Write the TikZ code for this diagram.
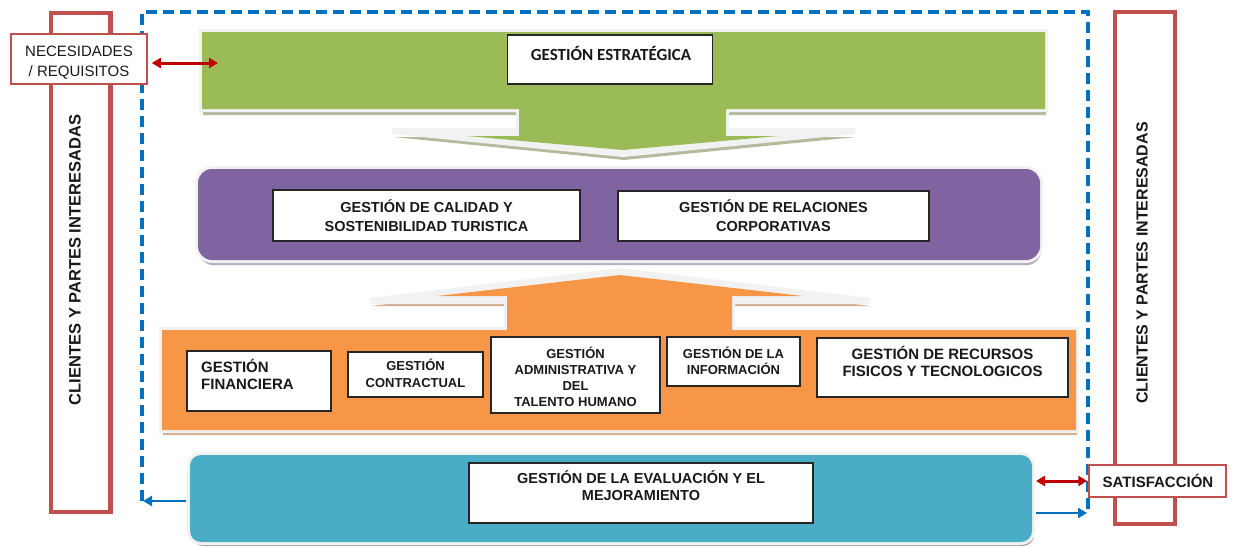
\documentclass[tikz,border=0pt]{standalone}
\usepackage{fontspec}
\setmainfont{Liberation Sans}
\newfontfamily\carl{Carlito}
\usetikzlibrary{arrows.meta}
\definecolor{cgreen}{RGB}{155,187,89}
\definecolor{cpurple}{RGB}{128,100,162}
\definecolor{corange}{RGB}{247,150,70}
\definecolor{cteal}{RGB}{75,172,198}
\definecolor{cred}{RGB}{192,80,77}
\definecolor{carrowred}{RGB}{192,0,0}
\definecolor{cblue}{RGB}{0,112,192}
\definecolor{cborder}{RGB}{242,242,242}
\newcommand{\ml}[2][c]{\begin{tabular}[t]{@{}#1@{}}#2\end{tabular}}
\begin{document}
\begin{tikzpicture}[x=1pt,y=-1pt,
  wbox/.style={draw=black!85, fill=white, line width=1.4pt, inner sep=0pt},
  rbox/.style={draw=cred, fill=white, line width=1.5pt, inner sep=0pt},
  tallbox/.style={draw=cred, line width=4.5pt, inner sep=0pt},
  lbl/.style={anchor=base, inner sep=0pt, text=black!90},
  panelborder/.style={draw=cborder, line width=6pt, line join=miter},
  redarrow/.style={draw=carrowred, line width=3pt, {Triangle[length=9pt,width=10pt]}-{Triangle[length=9pt,width=10pt]}},
  bluearrow/.style={draw=cblue, line width=2.8pt, -{Triangle[length=9pt,width=10pt]}},
  dashline/.style={draw=cblue, line width=3.2pt, dash pattern=on 11pt off 6pt}
]
\useasboundingbox (0,0) rectangle (1233,546);

% ---------- side red boxes ----------
\node[tallbox, minimum width=59.5, minimum height=499] (lrect) at (80.75,262.5) {};
\node[tallbox, minimum width=60, minimum height=512] (rrect) at (1145,268) {};
\node[font=\bfseries\fontsize{16.5}{18}\selectfont, text=black!90, rotate=90, inner sep=0pt] (lcl) at (75,260) {CLIENTES Y PARTES INTERESADAS};
\node[font=\bfseries\fontsize{16}{18}\selectfont, text=black!90, rotate=90, inner sep=0pt] (rcl) at (1142,263) {CLIENTES Y PARTES INTERESADAS};

% ---------- blue dashed loop ----------
\coordinate (dl) at (142,501);
\coordinate (dr) at (1088,513);
\draw[dashline] (dl) -- (142,12) -- (1088,12) -- (dr);

% ---------- green strategic panel ----------
\def\gout{(202,32) -- (1045,32) -- (1045,109) -- (726,109) -- (726,131) -- (855,131) -- (623,154) -- (392,131) -- (519,131) -- (519,109) -- (202,109) -- cycle}
\def\gin{(202,32) -- (1045,32) -- (1045,109) -- (726,109) -- (726,136) -- (778,136) -- (623,150) -- (467,136) -- (519,136) -- (519,109) -- (202,109) -- cycle}
\fill[black!35!cgreen!50!white, shift={(1,6)}] \gout;
\draw[panelborder] \gout;
\fill[cborder] \gout;
\fill[cgreen] \gin;

% ---------- purple panel ----------
\fill[black!30!cpurple!45!white, rounded corners=14pt, shift={(1,5)}] (198,169) rectangle (1040,260);
\draw[panelborder, rounded corners=14pt] (198,169) rectangle (1040,260);
\fill[cpurple, rounded corners=14pt] (198,169) rectangle (1040,260);

% ---------- orange panel ----------
\def\oout{(162,330) -- (507,330) -- (507,301) -- (370,301) -- (620,271) -- (870,301) -- (732,301) -- (732,330) -- (1076,330) -- (1076,430) -- (162,430) -- cycle}
\def\oin{(162,330) -- (507,330) -- (507,296) -- (437,296) -- (620,275) -- (803,296) -- (732,296) -- (732,330) -- (1076,330) -- (1076,430) -- (162,430) -- cycle}
\fill[black!30!corange!55!white, shift={(1,5)}] \oout;
\draw[panelborder] \oout;
\fill[cborder] \oout;
\fill[corange] \oin;

% ---------- teal panel ----------
\fill[black!35!white, rounded corners=11pt, shift={(2,4)}] (190,455) rectangle (1032,542);
\draw[panelborder, rounded corners=11pt] (190,455) rectangle (1032,542);
\fill[cteal, rounded corners=11pt] (190,455) rectangle (1032,542);
\coordinate (tealW) at (190,498);
\coordinate (tealE) at (1032,498);

% ---------- white boxes ----------
\node[wbox, minimum width=205, minimum height=49] (est) at (610,59.5) {};
\node[wbox, minimum width=307, minimum height=51] (cal) at (426.5,215.5) {};
\node[wbox, minimum width=311, minimum height=50] (rel) at (773.5,216) {};
\node[wbox, minimum width=144, minimum height=60] (fin) at (259,381) {};
\node[wbox, minimum width=135, minimum height=45] (con) at (415.5,374.5) {};
\node[wbox, minimum width=169, minimum height=76] (adm) at (575.5,375) {};
\node[wbox, minimum width=133, minimum height=49] (inf) at (733.5,361.5) {};
\node[wbox, minimum width=251, minimum height=59] (rec) at (942.5,367.5) {};
\node[wbox, minimum width=344, minimum height=60] (eva) at (641,493) {};
\node[rbox, minimum width=136, minimum height=50] (nec) at (79,59) {};
\node[rbox, minimum width=137, minimum height=32] (sat) at (1157.5,481) {};

% ---------- texts ----------
\node[lbl, font=\carl\bfseries\fontsize{17}{19}\selectfont] (testr) at (611,60) {GESTIÓN ESTRATÉGICA};
\node[lbl, font=\fontsize{15}{20}\selectfont] (tnec) at (79,56) {\ml{NECESIDADES\\/ REQUISITOS}};
\node[lbl, font=\bfseries\fontsize{14.5}{19}\selectfont] (tcal) at (426.5,212) {\ml{GESTIÓN DE CALIDAD Y\\SOSTENIBILIDAD TURISTICA}};
\node[lbl, font=\bfseries\fontsize{14.5}{19}\selectfont] (trel) at (773.5,212) {\ml{GESTIÓN DE RELACIONES\\CORPORATIVAS}};
\node[lbl, anchor=base west, font=\bfseries\fontsize{15}{17}\selectfont] (tfin) at (201,372) {\ml[l]{GESTIÓN\\FINANCIERA}};
\node[lbl, font=\bfseries\fontsize{13}{17}\selectfont] (tcon) at (415.5,370) {\ml{GESTIÓN\\CONTRACTUAL}};
\node[lbl, font=\bfseries\fontsize{13}{16}\selectfont] (tadm) at (575.5,358) {\ml{GESTIÓN\\ADMINISTRATIVA Y\\DEL\\TALENTO HUMANO}};
\node[lbl, font=\bfseries\fontsize{13}{15.5}\selectfont] (tinf) at (733.5,358) {\ml{GESTIÓN DE LA\\INFORMACIÓN}};
\node[lbl, font=\bfseries\fontsize{15}{17}\selectfont] (trec) at (942.5,359) {\ml{GESTIÓN DE RECURSOS\\FISICOS Y TECNOLOGICOS}};
\node[lbl, font=\bfseries\fontsize{14.5}{17}\selectfont] (teva) at (641,483) {\ml{GESTIÓN DE LA EVALUACIÓN Y EL\\MEJORAMIENTO}};
\node[lbl, font=\bfseries\fontsize{15}{17}\selectfont] (tsat) at (1158,487) {SATISFACCIÓN};

% ---------- connectors ----------
\coordinate (gin) at (218,63);
\draw[redarrow] ([xshift=4pt]nec.east |- gin) -- (gin);
\draw[redarrow] ([xshift=4pt]tealE |- sat.west) -- ([xshift=-1pt]sat.west);
\draw[bluearrow] ([xshift=-4pt]tealW |- dl) -- ([xshift=1pt]dl);
\draw[bluearrow] ([xshift=4pt]tealE |- dr) -- ([xshift=-1pt]dr);
\end{tikzpicture}
\end{document}
